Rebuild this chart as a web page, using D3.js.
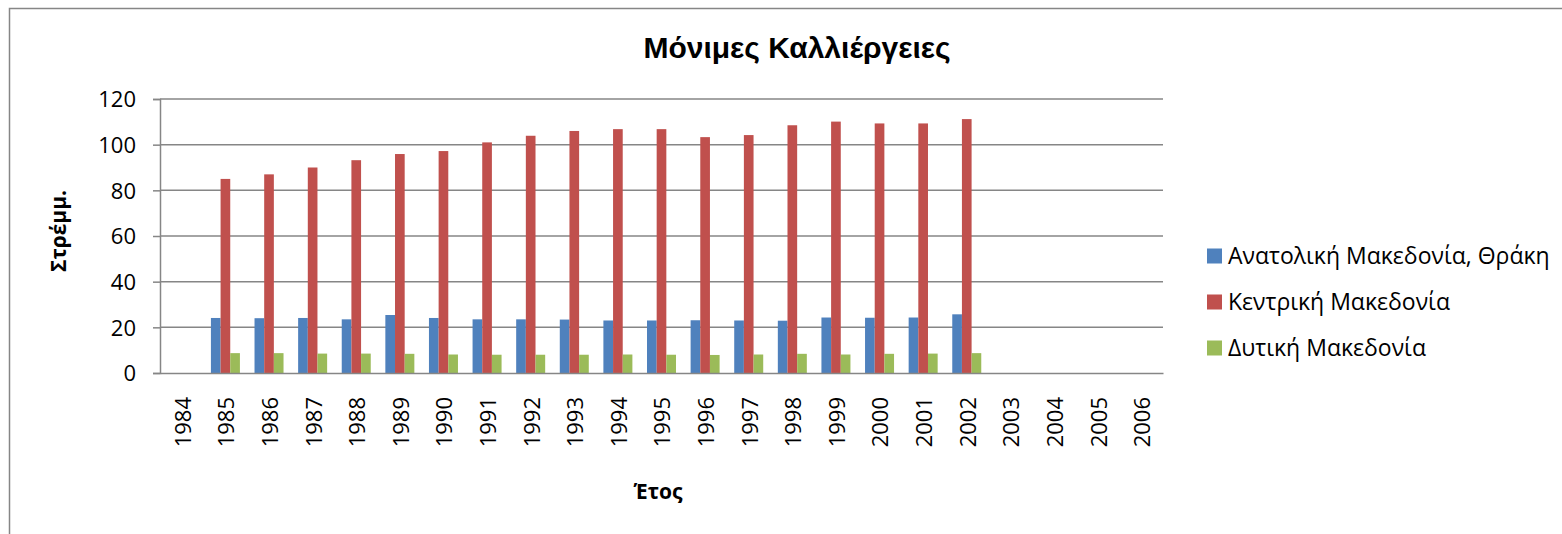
<!DOCTYPE html>
<html>
<head>
<meta charset="utf-8">
<script src="https://cdn.jsdelivr.net/npm/d3@7"></script>
<style>
  body { margin: 0; background: #fff; }
  text { font-family: "Open Sans", "Noto Sans", sans-serif; fill: #000; }
</style>
</head>
<body>
<script>
// data
var years = ["1984","1985","1986","1987","1988","1989","1990","1991","1992","1993","1994","1995",
             "1996","1997","1998","1999","2000","2001","2002","2003","2004","2005","2006"];
var seriesNames = ["Ανατολική Μακεδονία, Θράκη", "Κεντρική Μακεδονία", "Δυτική Μακεδονία"];
var anatoliki = [null,24.1,24.0,24.1,23.5,25.4,24.1,23.5,23.5,23.4,23.0,23.0,23.1,23.0,22.9,24.3,24.2,24.3,25.7,null,null,null,null];
var kentriki  = [null,85.0,87.0,90.0,93.2,95.9,97.2,101.0,103.9,106.0,106.8,106.8,103.3,104.2,108.5,110.1,109.3,109.3,111.2,null,null,null,null];
var dytiki     = [null,8.7,8.7,8.5,8.5,8.4,8.1,8.0,8.0,8.0,8.1,8.0,7.9,8.1,8.4,8.1,8.4,8.5,8.7,null,null,null,null];
var yTicks = [0,20,40,60,80,100,120];
var colors = ["#4F81BD", "#C0504D", "#9BBB59"];

var W = 1562, H = 534;
var margin = {top: 99, left: 160, right: 399, bottom: 161};
var width = W - margin.left - margin.right,
    height = H - margin.top - margin.bottom;

var svg = d3.select("body").append("svg")
    .attr("width", W)
    .attr("height", H);

// outer chart border
svg.append("rect")
    .attr("x", 9.5).attr("y", 8.5)
    .attr("width", W + 20).attr("height", H + 20)
    .attr("fill", "none").attr("stroke", "#868686").attr("stroke-width", 1.5);

var g = svg.append("g")
    .attr("transform", "translate(" + margin.left + "," + margin.top + ")");

var x = d3.scaleBand().domain(years).range([0, width]).paddingInner(0.335).paddingOuter(0.1675);
var x1 = d3.scaleBand().domain([0,1,2]).range([0, x.bandwidth()]);
var y = d3.scaleLinear().domain([0, 120]).range([height, 0]);

// gridlines + y axis
var yAxis = d3.axisLeft(y).tickValues(yTicks).tickSize(7).tickPadding(17);
var yg = g.append("g").call(yAxis);
yg.select(".domain").attr("stroke", "#868686").attr("stroke-width", 1.5);
yg.selectAll(".tick line").attr("stroke", "#868686").attr("stroke-width", 1.5);
yg.selectAll(".tick text").style("font-size", "22px").attr("dy", "0.36em");

g.append("g").selectAll("line")
    .data(yTicks.filter(function(d) { return d > 0; }))
    .enter().append("line")
    .attr("x1", 0).attr("x2", width)
    .attr("y1", function(d) { return y(d); })
    .attr("y2", function(d) { return y(d); })
    .attr("stroke", "#868686").attr("stroke-width", 1.5);

// bars
var allSeries = [anatoliki, kentriki, dytiki];
allSeries.forEach(function(vals, si) {
  g.append("g").selectAll("rect")
    .data(years.map(function(yr, i) { return {yr: yr, v: vals[i]}; }).filter(function(d) { return d.v != null; }))
    .enter().append("rect")
    .attr("x", function(d) { return x(d.yr) + x1(si); })
    .attr("width", x1.bandwidth())
    .attr("y", function(d) { return y(d.v); })
    .attr("height", function(d) { return height - y(d.v); })
    .attr("fill", colors[si]);
});

// x axis
var xAxis = d3.axisBottom(x).tickSize(0).tickPadding(0);
var xg = g.append("g").attr("transform", "translate(0," + height + ")").call(xAxis);
xg.select(".domain").attr("stroke", "#868686").attr("stroke-width", 1.5);
xg.selectAll(".tick text")
    .style("font-size", "22px")
    .attr("text-anchor", "end")
    .attr("transform", "translate(1,24) rotate(-90)")
    .attr("dy", "0.36em")
    .attr("y", 0).attr("x", 0);

// titles
svg.append("text")
    .attr("x", 797).attr("y", 58)
    .attr("text-anchor", "middle")
    .style("font-family", "'Liberation Sans', Arial, sans-serif")
    .style("font-size", "30px").style("font-weight", "bold")
    .text("Μόνιμες Καλλιέργειες");

svg.append("text")
    .attr("transform", "translate(66,231) rotate(-90)")
    .attr("text-anchor", "middle")
    .style("font-size", "21px").style("font-weight", "bold")
    .text("Στρέμμ.");

svg.append("text")
    .attr("x", 658).attr("y", 499)
    .attr("text-anchor", "middle")
    .style("font-size", "21px").style("font-weight", "bold")
    .text("Έτος");

// legend
var legend = svg.append("g").attr("transform", "translate(1207,256)");
var li = legend.selectAll("g").data(seriesNames).enter().append("g")
    .attr("transform", function(d, i) { return "translate(0," + (i * 46) + ")"; });
li.append("rect").attr("x", 0).attr("y", -7.5).attr("width", 15).attr("height", 15)
    .attr("fill", function(d, i) { return colors[i]; });
li.append("text").attr("x", 21).attr("dy", "0.36em")
    .style("font-size", "23px")
    .text(function(d) { return d; });
</script>
</body>
</html>
